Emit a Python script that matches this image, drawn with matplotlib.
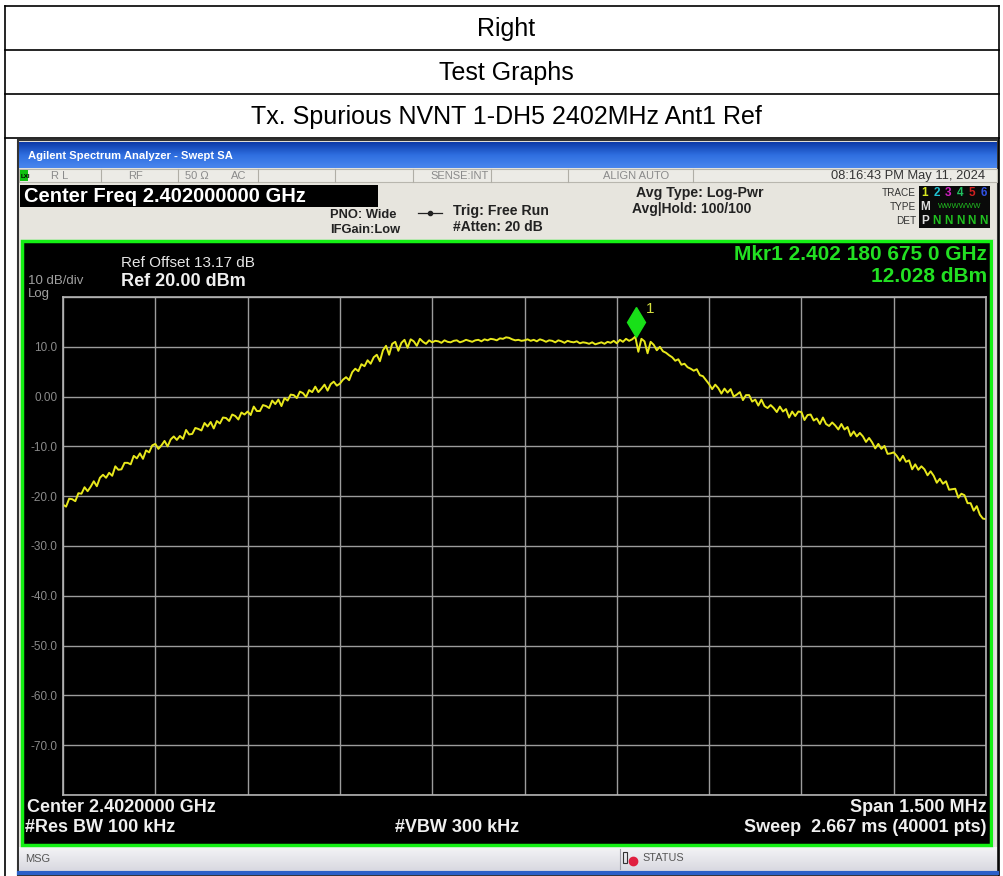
import numpy as np
import matplotlib.pyplot as plt
from matplotlib.patches import Rectangle
from matplotlib.colors import LinearSegmentedColormap

plt.rcParams['font.family'] = ['Liberation Sans', 'DejaVu Sans']

# header rows of the report table
rows = ["Right", "Test Graphs", "Tx. Spurious NVNT 1-DH5 2402MHz Ant1 Ref"]

# analyzer settings
center_mhz = 2402.0
span_mhz = 1.5
ref_level = 20.0
db_div = 10.0
y_labels = ["", "10.0", "0.00", "-10.0", "-20.0", "-30.0", "-40.0",
            "-50.0", "-60.0", "-70.0", ""]

# trace, dBm (301 points across the span)
trace = [
    -21.7, -22.1, -20.5, -20.6, -21.0, -19.4, -19.5, -18.2, -19.0, -18.1,
    -17.0, -18.0, -16.3, -15.7, -16.3, -15.3, -15.9, -14.0, -14.7, -14.6,
    -13.3, -13.3, -13.6, -11.9, -12.4, -11.4, -12.5, -10.8, -11.2, -9.8,
    -9.5, -10.5, -9.8, -8.9, -10.0, -8.6, -8.0, -8.7, -7.9, -8.5,
    -6.7, -7.6, -7.5, -6.3, -6.5, -6.8, -5.3, -6.0, -5.1, -6.4,
    -4.9, -5.4, -4.2, -4.3, -4.9, -3.6, -3.9, -4.6, -3.2, -3.6,
    -3.0, -3.7, -2.0, -2.9, -2.9, -1.7, -1.9, -2.3, -0.8, -1.5,
    -0.6, -1.9, -0.3, -0.8, 0.4, 0.3, -0.3, 1.0, 0.7, -0.1,
    1.3, 0.9, 2.0, 0.9, 1.6, 2.4, 1.2, 2.5, 3.0, 2.2,
    2.6, 3.4, 3.9, 3.3, 4.9, 5.6, 5.1, 6.5, 6.1, 7.3,
    6.6, 7.9, 8.4, 7.1, 9.3, 10.2, 8.4, 10.6, 11.0, 9.2,
    10.8, 11.4, 9.8, 11.5, 11.1, 10.2, 11.6, 11.0, 10.6, 11.3,
    10.9, 11.2, 11.1, 10.8, 11.3, 11.0, 10.9, 11.2, 11.3, 10.9,
    11.1, 11.4, 11.2, 11.0, 11.3, 11.4, 11.1, 11.5, 11.3, 11.6,
    11.5, 11.3, 11.7, 11.6, 11.9, 11.8, 11.5, 11.3, 11.4, 11.2,
    11.3, 11.5, 11.2, 11.4, 11.1, 11.5, 11.3, 11.0, 11.3, 11.2,
    10.9, 11.3, 11.1, 10.8, 11.2, 11.0, 10.9, 11.1, 10.7, 10.9,
    10.8, 10.6, 10.9, 10.5, 10.7, 10.9, 10.6, 11.0, 10.8, 11.2,
    10.7, 11.4, 11.0, 11.6, 11.2, 11.5, 12.03, 9.0, 11.6, 11.1,
    8.7, 11.0, 10.4, 9.3, 10.0, 9.1, 8.8, 8.3, 7.9, 7.2,
    7.5, 6.4, 6.6, 5.9, 5.6, 5.2, 5.5, 4.3, 4.1, 3.3,
    2.5, 1.5, 2.4, 1.7, 0.6, 1.6, 0.8, 1.5, 0.0, 0.4,
    0.9, -0.7, 0.3, 0.3, -1.0, -0.6, -1.8, -0.6, -1.9, -2.3,
    -1.7, -2.3, -3.1, -2.0, -3.0, -2.5, -4.2, -3.0, -3.9, -3.0,
    -3.1, -4.7, -3.7, -3.6, -4.8, -4.4, -5.5, -4.2, -5.5, -5.9,
    -5.2, -5.8, -6.6, -5.5, -6.6, -6.1, -7.9, -7.0, -8.0, -7.3,
    -8.0, -9.1, -8.3, -9.2, -10.4, -9.5, -10.5, -9.9, -11.5, -11.4,
    -11.2, -11.9, -12.9, -11.9, -13.1, -12.8, -14.6, -13.6, -14.7, -14.0,
    -14.6, -15.8, -15.0, -15.9, -17.3, -16.5, -17.5, -17.0, -18.7, -18.6,
    -18.5, -20.3, -19.5, -19.8, -21.4, -21.4, -22.9, -22.0, -23.7, -24.5,
    -24.6,
]

mkr_freq = 2402.180675
mkr_level = 12.028

W, H = 1004, 876
fig = plt.figure(figsize=(W / 100, H / 100), dpi=100)
fig.patch.set_facecolor('white')

bg = fig.add_axes([0, 0, 1, 1])
bg.set_xlim(0, W)
bg.set_ylim(H, 0)
bg.axis('off')

# report table
for yy in [6, 50, 94, 138]:
    bg.plot([5, 999], [yy, yy], color='black', lw=1.2)
bg.plot([5, 5], [6, H], color='black', lw=1.2)
bg.plot([999, 999], [6, H], color='black', lw=1.2)
for i, txt in enumerate(rows):
    bg.text(506, 29 + 44 * i, txt, ha='center', va='center', fontsize=18)

# analyzer window frame
bg.add_patch(Rectangle((18, 140), 980, 736, facecolor='#e7e5de', edgecolor='#333333', lw=1.5))
grad = np.linspace(0, 1, 50).reshape(-1, 1)
bg.imshow(grad, extent=(19, 997, 168, 142),
          cmap=LinearSegmentedColormap.from_list('tb', ['#0c3aa8', '#2f6fe0', '#4a86ee']),
          aspect='auto', zorder=2)
bg.text(28, 156, "Agilent Spectrum Analyzer - Swept SA", color='white', fontsize=8.1,
        fontweight='bold', va='center', zorder=3)

# status row
bg.add_patch(Rectangle((19, 169), 978, 13, facecolor='#ecebe6', edgecolor='#b8b6ae', lw=0.8, zorder=2))
for xx in [101, 178, 258, 335, 413, 491, 568, 693]:
    bg.plot([xx, xx], [169, 182], color='#b0aea6', lw=0.8, zorder=3)
bg.add_patch(Rectangle((20, 170), 8, 11, facecolor='#10c010', zorder=3))
bg.text(20.5, 176, "LXI", fontsize=4.5, fontweight='bold', color='black', va='center', zorder=4)
for xx, txt in [(51, "R L"), (128, "RF"), (185, "50 Ω"), (231, "AC"),
                (430, "SENSE:INT"), (603, "ALIGN AUTO")]:
    bg.text(xx, 176, txt, fontsize=8, color='#8a8a8a', va='center', zorder=4)
bg.text(985, 176, "08:16:43 PM May 11, 2024", fontsize=9.3, color='#333333', ha='right',
        va='center', zorder=4)

# settings area
bg.add_patch(Rectangle((20, 185), 358, 22, facecolor='black', zorder=3))
bg.text(24, 196, "Center Freq 2.402000000 GHz", color='white', fontsize=14.5,
        fontweight='bold', va='center', zorder=4)
bg.text(330, 215, "PNO: Wide", fontsize=9.3, fontweight='bold', color='#222222', va='center', zorder=4)
bg.text(330, 230, "IFGain:Low", fontsize=9.3, fontweight='bold', color='#222222', va='center', zorder=4)
bg.plot([418, 442], [213, 213], color='#222222', lw=0.9, zorder=4)
bg.plot([430], [213], marker='o', ms=3, color='#222222', zorder=4)
bg.text(453, 211, "Trig: Free Run", fontsize=10.2, fontweight='bold', color='#222222', va='center', zorder=4)
bg.text(453, 227, "#Atten: 20 dB", fontsize=10, fontweight='bold', color='#222222', va='center', zorder=4)
bg.text(636, 193, "Avg Type: Log-Pwr", fontsize=10.2, fontweight='bold', color='#222222', va='center', zorder=4)
bg.text(632, 209, "Avg|Hold: 100/100", fontsize=10, fontweight='bold', color='#222222', va='center', zorder=4)
for yy, txt in [(193, "TRACE"), (207, "TYPE"), (221, "DET")]:
    bg.text(916, yy, txt, fontsize=7.2, color='#333333', ha='right', va='center', zorder=4)
bg.add_patch(Rectangle((919, 186), 71, 42, facecolor='#0a0a0a', zorder=3))
trace_cols = ['#d8e820', '#20c0d0', '#d020c0', '#20c060', '#d02020', '#3050e0']
for k, c in enumerate(trace_cols):
    bg.text(925 + 11.7 * k, 193, str(k + 1), fontsize=8.5, fontweight='bold', color=c,
            ha='center', va='center', zorder=4)
bg.text(925, 207, "M", fontsize=8.5, fontweight='bold', color='#dddddd', ha='center',
        va='center', zorder=4)
bg.text(960, 207, "WWWWWW", fontsize=5.5, color='#20c020', ha='center', va='center', zorder=4)
bg.text(925, 221, "P", fontsize=8.5, fontweight='bold', color='#dddddd', ha='center',
        va='center', zorder=4)
for k in range(5):
    bg.text(936.7 + 11.7 * k, 221, "N", fontsize=8.5, fontweight='bold', color='#20c020',
            ha='center', va='center', zorder=4)

# plot panel
bg.add_patch(Rectangle((22, 241), 969, 604, facecolor='black', edgecolor='#14f014', lw=2.5,
                       zorder=3))
bg.plot([994, 994], [240, 846], color='#d8d8d8', lw=1.2, zorder=3)
bg.text(121, 263, "Ref Offset 13.17 dB", color='#e6e6e6', fontsize=11, va='center', zorder=4)
bg.text(121, 282, "Ref 20.00 dBm", color='#f0f0f0', fontsize=13, fontweight='bold',
        va='center', zorder=4)
bg.text(28, 281, "10 dB/div", color='#a0a0a0', fontsize=9.5, va='center', zorder=4)
bg.text(28, 294, "Log", color='#a0a0a0', fontsize=9.5, va='center', zorder=4)
bg.text(987, 255, "Mkr1 2.402 180 675 0 GHz", color='#22e022', fontsize=15,
        fontweight='bold', ha='right', va='center', zorder=4)
bg.text(987, 276, "%.3f dBm" % mkr_level, color='#22e022', fontsize=15,
        fontweight='bold', ha='right', va='center', zorder=4)
bg.text(27, 807, "Center 2.4020000 GHz", color='#f0f0f0', fontsize=13, fontweight='bold',
        va='center', zorder=4)
bg.text(25, 828, "#Res BW 100 kHz", color='#f0f0f0', fontsize=13, fontweight='bold',
        va='center', zorder=4)
bg.text(395, 828, "#VBW 300 kHz", color='#f0f0f0', fontsize=13, fontweight='bold',
        va='center', zorder=4)
bg.text(987, 807, "Span 1.500 MHz", color='#f0f0f0', fontsize=13, fontweight='bold',
        ha='right', va='center', zorder=4)
bg.text(987, 828, "Sweep  2.667 ms (40001 pts)", color='#f0f0f0', fontsize=13,
        fontweight='bold', ha='right', va='center', zorder=4)

# message bar
bg.imshow(grad, extent=(19, 997, 871, 847),
          cmap=LinearSegmentedColormap.from_list('mb', ['#f4f4f6', '#d8d8e0']),
          aspect='auto', zorder=2)
bg.plot([19, 997], [873, 873], color='#2a5fc8', lw=3, zorder=3)
bg.plot([620, 620], [849, 869], color='#a0a0a8', lw=0.8, zorder=3)
bg.text(25, 859, "MSG", fontsize=8, color='#555555', va='center', zorder=4)
bg.add_patch(Rectangle((623, 852), 4, 11, facecolor='none', edgecolor='#333333', lw=0.8, zorder=4))
bg.plot([633], [861], marker='o', ms=6, color='#e02040', zorder=4)
bg.text(642, 858, "STATUS", fontsize=7.8, color='#555555', va='center', zorder=4)

# spectrum grid and trace
x0, x1, y0, y1 = 63, 986, 297, 795
ax = fig.add_axes([x0 / W, 1 - y1 / H, (x1 - x0) / W, (y1 - y0) / H])
ax.set_facecolor('black')
f_lo = center_mhz - span_mhz / 2
f_hi = center_mhz + span_mhz / 2
freqs = np.linspace(f_lo, f_hi, len(trace))
ax.plot(freqs, trace, color='#e8e81c', lw=1.4)
ax.plot([mkr_freq], [mkr_level + 3.0], marker='d', ms=15, color='#18e018', mec='#18e018')
ax.text(mkr_freq + 0.017, mkr_level + 5.5, "1", color='#d4e040', fontsize=11, va='center')
ax.set_xlim(f_lo, f_hi)
ax.set_ylim(ref_level - 10 * db_div, ref_level)
ax.set_xticks(np.linspace(f_lo, f_hi, 11))
ax.set_yticks(np.arange(ref_level, ref_level - 10 * db_div - 1, -db_div))
ax.set_yticklabels(y_labels)
ax.set_xticklabels([])
ax.grid(True, color='#9c9c9c', lw=1.0)
ax.set_axisbelow(True)
ax.tick_params(length=0, labelcolor='#8a8a8a', labelsize=8.5, pad=4)
for s in ax.spines.values():
    s.set_color('#b4b4b4')
    s.set_linewidth(1.2)

fig.savefig('out.png', dpi=100, facecolor='white')
